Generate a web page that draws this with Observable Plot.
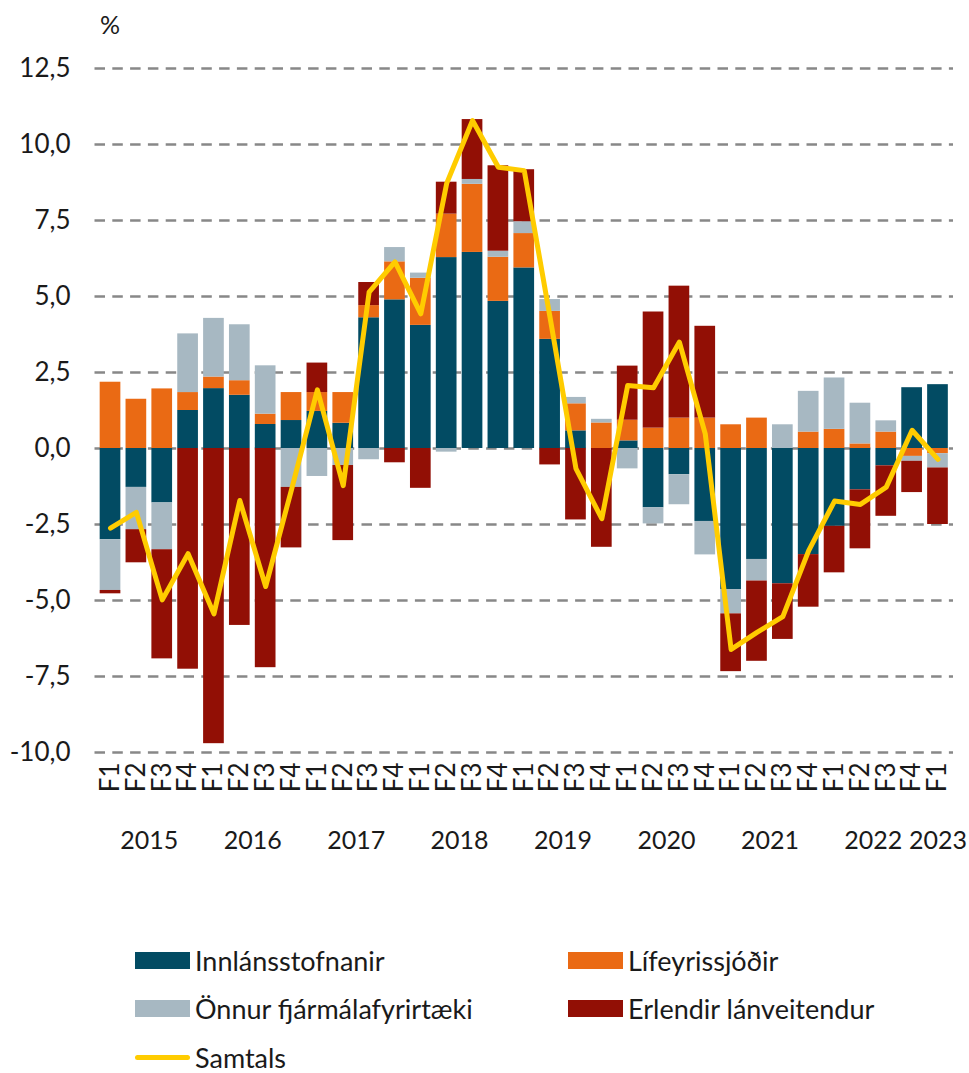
<!DOCTYPE html>
<html>
<head>
<meta charset="utf-8">
<script src="https://cdn.jsdelivr.net/npm/d3@7"></script>
<script src="https://cdn.jsdelivr.net/npm/@observablehq/plot@0.6"></script>
<style>
  body { margin: 0; background: #fff; font-family: Lato, "Open Sans", sans-serif; color: #1a1a1a; }
  #chart { width: 969px; height: 880px; }
  #legend { display: grid; grid-template-columns: 433px 340px; padding-left: 135px; margin-top: 56px; }
  .item { display: flex; align-items: center; height: 48.5px; font-size: 27px; white-space: nowrap; }
  .sw { width: 55px; height: 17px; margin-right: 5px; flex: none; }
  .ln { width: 55px; height: 5px; border-radius: 3px; margin-right: 5px; flex: none; }
</style>
</head>
<body>
<div id="chart"></div>
<div id="legend"></div>
<script>
// ---- Data ----
const quarters = [
  "2015 F1","2015 F2","2015 F3","2015 F4",
  "2016 F1","2016 F2","2016 F3","2016 F4",
  "2017 F1","2017 F2","2017 F3","2017 F4",
  "2018 F1","2018 F2","2018 F3","2018 F4",
  "2019 F1","2019 F2","2019 F3","2019 F4",
  "2020 F1","2020 F2","2020 F3","2020 F4",
  "2021 F1","2021 F2","2021 F3","2021 F4",
  "2022 F1","2022 F2","2022 F3","2022 F4",
  "2023 F1"
];
const series = ["Innlánsstofnanir", "Lífeyrissjóðir", "Önnur fjármálafyrirtæki", "Erlendir lánveitendur"];
const seriesColors = ["#024B63", "#EA6A14", "#A7B8C2", "#920F05"];
const totalLabel = "Samtals";
const totalColor = "#FFCC00";

const innlansstofnanir = [
  -3.00, -1.28, -1.79, 1.25,
  1.97, 1.75, 0.79, 0.92,
  1.22, 0.83, 4.30, 4.89,
  4.05, 6.28, 6.45, 4.84,
  5.94, 3.59, 0.58, 0.00,
  0.25, -1.95, -0.86, -2.40,
  -4.64, -3.65, -4.45, -3.49,
  -2.56, -1.36, -0.57, 2.00,
  2.10
];
const lifeyrissjodir = [
  2.18, 1.62, 1.96, 0.59,
  0.38, 0.48, 0.34, 0.92,
  0.62, 1.01, 0.40, 1.25,
  1.55, 1.43, 2.24, 1.45,
  1.13, 0.92, 0.89, 0.84,
  0.68, 0.67, 1.00, 1.00,
  0.78, 1.00, 0.00, 0.54,
  0.63, 0.15, 0.54, -0.26,
  -0.17
];
const onnur = [
  -1.67, -1.39, -1.54, 1.93,
  1.93, 1.84, 1.59, -1.28,
  -0.92, -0.56, -0.37, 0.47,
  0.17, -0.12, 0.16, 0.20,
  0.39, 0.39, 0.21, 0.12,
  -0.67, -0.53, -0.99, -1.10,
  -0.80, -0.71, 0.78, 1.34,
  1.69, 1.34, 0.37, -0.16,
  -0.47
];
const erlendir = [
  -0.11, -1.09, -3.59, -7.26,
  -9.71, -5.82, -7.21, -1.99,
  0.97, -2.47, 0.76, -0.47,
  -1.31, 1.05, 1.97, 2.81,
  1.71, -0.54, -2.35, -3.25,
  1.78, 3.82, 4.34, 3.02,
  -1.90, -2.64, -1.83, -1.73,
  -1.53, -1.94, -1.66, -1.03,
  -1.86
];
const samtals = [
  -2.62, -2.10, -4.98, -3.46,
  -5.44, -1.71, -4.54, -1.35,
  1.93, -1.22, 5.14, 6.14,
  4.43, 8.72, 10.79, 9.25,
  9.14, 4.30, -0.66, -2.31,
  2.07, 2.00, 3.50, 0.48,
  -6.61, -6.05, -5.53, -3.36,
  -1.73, -1.84, -1.27, 0.60,
  -0.36
];
const yTicks = [-10, -7.5, -5, -2.5, 0, 2.5, 5, 7.5, 10, 12.5];
const yearLabels = ["2015", "2016", "2017", "2018", "2019", "2020", "2021", "2022"];
const yearAnchors = ["2015 F2", "2016 F2", "2017 F2", "2018 F2", "2019 F2", "2020 F2", "2021 F2", "2022 F2"];
const lastYearLabel = ["2023"];
const lastYearAnchor = ["2023 F1"];
const unitLabel = "%";

// ---- Tables built from the arrays ----
const seriesValues = [innlansstofnanir, lifeyrissjodir, onnur, erlendir];
const rows = quarters.flatMap((q, i) => series.map((s, j) => ({q, s, v: seriesValues[j][i]})));
const totals = quarters.map((q, i) => ({q, v: samtals[i]}));
const years = yearLabels.map((y, i) => ({y, q: yearAnchors[i]}));
const lastYear = lastYearLabel.map((y, i) => ({y, q: lastYearAnchor[i]}));

const fmt = v => v.toFixed(1).replace(".", ",");

const chart = Plot.plot({
  width: 969,
  height: 880,
  marginLeft: 94.5,
  marginRight: 16,
  marginTop: 68,
  marginBottom: 128,
  style: {fontFamily: "Lato, 'Open Sans', sans-serif", fontSize: "26px", color: "#1a1a1a", background: "white"},
  x: {type: "band", domain: quarters, padding: 0.2, round: false, label: null},
  y: {domain: [-10, 12.5], label: null},
  color: {domain: series, range: seriesColors},
  marks: [
    Plot.ruleY(yTicks, {stroke: "#888", strokeWidth: 2.7, strokeDasharray: "10.5,7.3"}),
    Plot.barY(rows, {x: "q", y: "v", fill: "s"}),
    Plot.line(totals, {x: "q", y: "v", stroke: totalColor, strokeWidth: 5, strokeLinejoin: "round", strokeLinecap: "round"}),
    Plot.axisY({ticks: yTicks, tickSize: 0, tickPadding: 24.5, tickFormat: fmt, fontSize: 26, label: null}),
    Plot.axisX({tickSize: 0, tickRotate: -90, tickPadding: 10, fontSize: 26, label: null, tickFormat: d => d.split(" ")[1]}),
    Plot.text(years, {x: "q", text: "y", frameAnchor: "bottom", lineAnchor: "middle", dy: 88, dx: 12.9, fontSize: 25, fill: "#1a1a1a"}),
    Plot.text(lastYear, {x: "q", text: "y", frameAnchor: "bottom", lineAnchor: "middle", dy: 88, fontSize: 25, fill: "#1a1a1a"}),
    Plot.text([unitLabel], {frameAnchor: "top-left", lineAnchor: "middle", dx: 5, dy: -43, textAnchor: "start", fontSize: 25, fill: "#1a1a1a"})
  ]
});
document.getElementById("chart").appendChild(chart);

// ---- Legend ----
const legend = document.getElementById("legend");
series.forEach((name, i) => {
  const item = document.createElement("div");
  item.className = "item";
  item.innerHTML = `<span class="sw" style="background:${seriesColors[i]}"></span><span>${name}</span>`;
  legend.appendChild(item);
});
const tot = document.createElement("div");
tot.className = "item";
tot.innerHTML = `<span class="ln" style="background:${totalColor}"></span><span>${totalLabel}</span>`;
legend.appendChild(tot);
</script>
</body>
</html>
